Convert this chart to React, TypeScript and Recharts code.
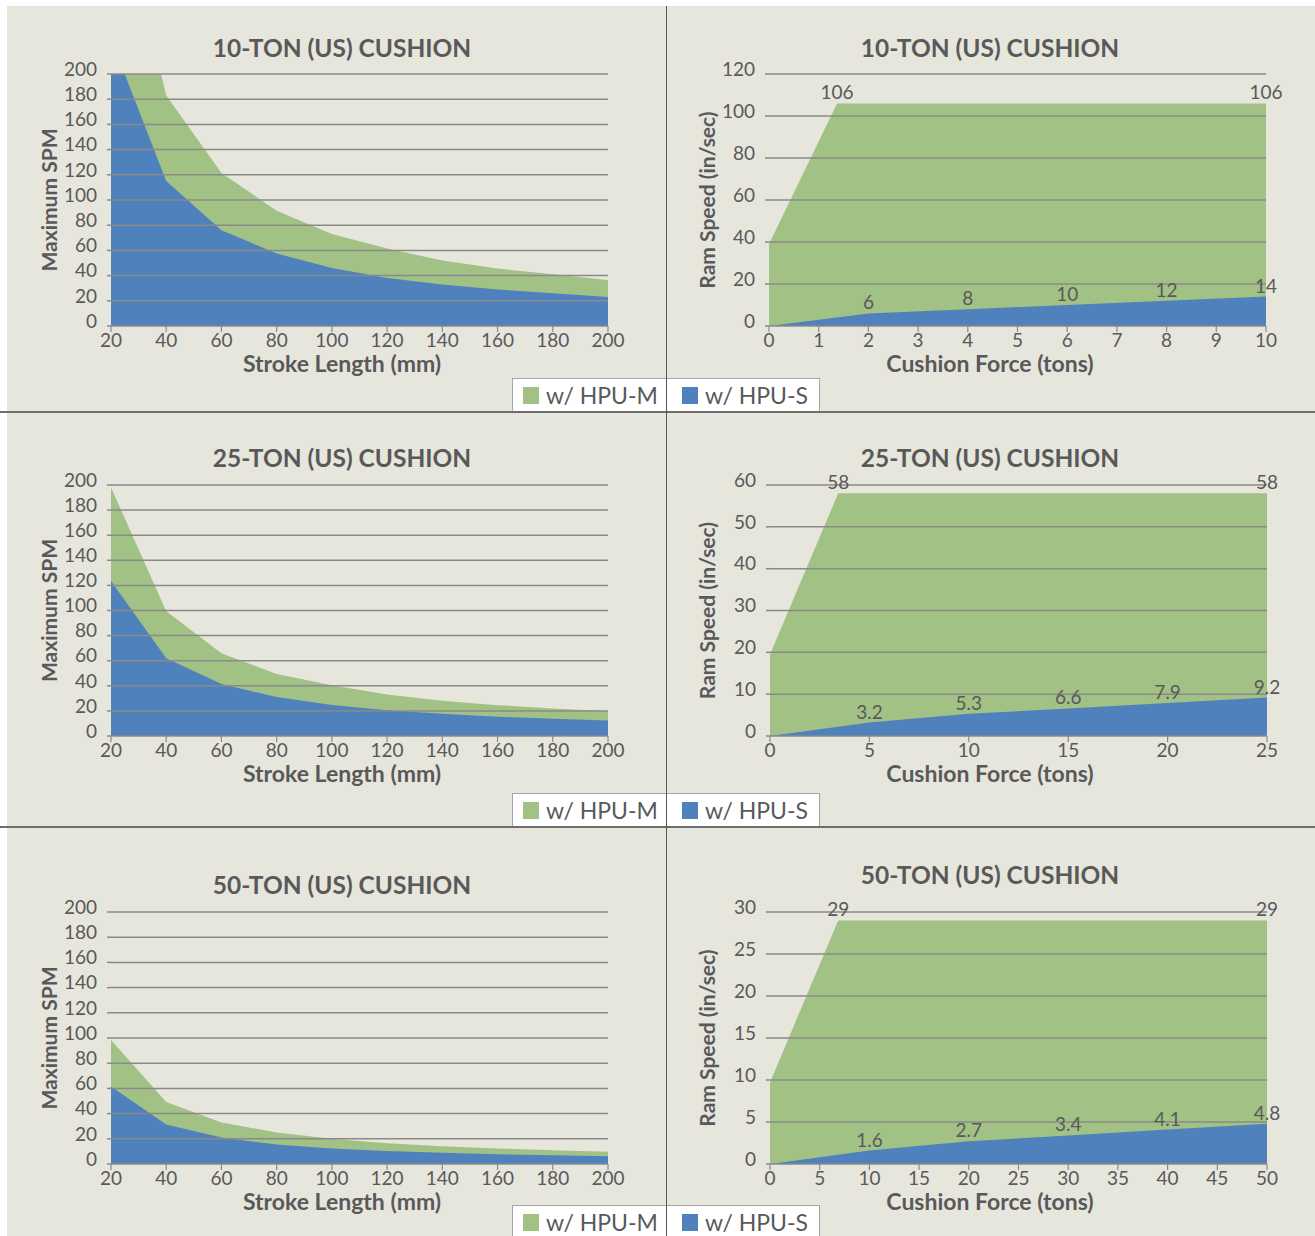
import React from 'react';
import { AreaChart, Area, XAxis, YAxis, ReferenceLine, LabelList, Label } from 'recharts';

const FONT = 'Lato, "Open Sans", sans-serif';
const TEXT = '#595959';
const GRID = '#8a8a8a';

const seriesNames = ['w/ HPU-M', 'w/ HPU-S'];
const seriesColors = ['#a2c185', '#4f81bd'];
const titles = ['10-TON (US) CUSHION', '25-TON (US) CUSHION', '50-TON (US) CUSHION'];

// stroke length vs max SPM
const strokeLengths = [20, 40, 60, 80, 100, 120, 140, 160, 180, 200];
const spmTicks = [0, 20, 40, 60, 80, 100, 120, 140, 160, 180, 200];
const spm10M = [366, 183, 121.5, 91.5, 73, 61.5, 52, 45.6, 41, 36.5];
const spm10S = [228, 115, 76, 57.5, 46, 38, 33, 29, 26, 23];
const spm25M = [198, 99.5, 66, 49.5, 40.5, 33, 28, 24.6, 22, 19.8];
const spm25S = [123.5, 62, 41.4, 31, 24.8, 20.6, 17.8, 15.4, 13.8, 12.4];
const spm50M = [98.5, 49.3, 33, 25, 20, 16.5, 14, 12.4, 11, 9.8];
const spm50S = [61.5, 31.4, 21, 15.5, 12.4, 10.3, 8.9, 7.8, 6.9, 6.2];

// cushion force vs ram speed
const force10M = [0, 1.37, 10];
const speed10M = [39, 106, 106];
const force10S = [0, 2, 4, 6, 8, 10];
const speed10S = [0, 6, 8, 10, 12, 14];
const force10Ticks = [0, 1, 2, 3, 4, 5, 6, 7, 8, 9, 10];
const speed10Ticks = [0, 20, 40, 60, 80, 100, 120];

const force25M = [0, 3.43, 25];
const speed25M = [19.5, 58, 58];
const force25S = [0, 5, 10, 15, 20, 25];
const speed25S = [0, 3.2, 5.3, 6.6, 7.9, 9.2];
const force25Ticks = [0, 5, 10, 15, 20, 25];
const speed25Ticks = [0, 10, 20, 30, 40, 50, 60];

const force50M = [0, 6.86, 50];
const speed50M = [9.7, 29, 29];
const force50S = [0, 10, 20, 30, 40, 50];
const speed50S = [0, 1.6, 2.7, 3.4, 4.1, 4.8];
const force50Ticks = [0, 5, 10, 15, 20, 25, 30, 35, 40, 45, 50];
const speed50Ticks = [0, 5, 10, 15, 20, 25, 30];

function spmTable(m: number[], s: number[]) {
  return strokeLengths.map((x, i) => ({ x, m: m[i], s: s[i] }));
}

// union of both series' x values; labels everywhere except at x = 0
function speedTable(xm: number[], ym: number[], xs: number[], ys: number[]) {
  const all = Array.from(new Set([...xm, ...xs])).sort((a, b) => a - b);
  return all.map((x) => {
    const im = xm.indexOf(x);
    const is = xs.indexOf(x);
    const m = im >= 0 ? ym[im] : null;
    const s = is >= 0 ? ys[is] : null;
    return {
      x,
      m,
      s,
      mLabel: x !== 0 && m != null ? m : undefined,
      sLabel: x !== 0 && s != null ? s : undefined,
    };
  });
}

type Plot = { x0: number; y0: number; x1: number; y1: number };

interface ChartProps {
  data: any[];
  plot: Plot;
  cellLeft: number;
  cellRight: number;
  xTicks: number[];
  yTicks: number[];
  xTitle: string;
  yTitle: string;
  yTitleX: number;
  centerX: number;
  labels?: boolean;
  overflow?: boolean;
}

function CushionChart(p: ChartProps) {
  const top = p.plot.y0 - 70;
  const width = p.cellRight - p.cellLeft;
  const plotH = p.plot.y1 - p.plot.y0;
  const yw = p.plot.x0 - p.cellLeft;
  const xDomain = [p.xTicks[0], p.xTicks[p.xTicks.length - 1]];
  const yDomain = [p.yTicks[0], p.yTicks[p.yTicks.length - 1]];
  const tickStyle = { fill: TEXT, fontSize: 19, fontFamily: FONT };
  const labelStyle = { fill: TEXT, fontSize: 19, fontFamily: FONT };
  return (
    <div style={{ position: 'absolute', left: p.cellLeft, top }}>
      <AreaChart
        width={width}
        height={70 + plotH + 60}
        data={p.data}
        margin={{ top: 70, right: p.cellRight - p.plot.x1, bottom: 15, left: 0 }}
      >
        <XAxis
          dataKey="x"
          type="number"
          domain={xDomain}
          ticks={p.xTicks}
          interval={0}
          height={46}
          tick={tickStyle}
          tickSize={6}
          tickMargin={2}
          axisLine={{ stroke: GRID, strokeWidth: 1.5 }}
          tickLine={{ stroke: GRID, strokeWidth: 1.2 }}
        >
          <Label
            value={p.xTitle}
            position="insideBottom"
            offset={0}
            dx={p.centerX - (p.plot.x0 + p.plot.x1) / 2}
            style={{ fill: TEXT, fontSize: 23, fontWeight: 700, fontFamily: FONT }}
          />
        </XAxis>
        <YAxis
          type="number"
          domain={yDomain}
          ticks={p.yTicks}
          interval={0}
          width={yw}
          allowDataOverflow={!!p.overflow}
          tick={{ ...tickStyle, dy: -5 }}
          tickSize={4}
          tickMargin={10}
          axisLine={false}
          tickLine={{ stroke: GRID, strokeWidth: 1.5 }}
        >
          <Label
            value={p.yTitle}
            position="center"
            angle={-90}
            dx={p.yTitleX - p.cellLeft - yw / 2}
            style={{ fill: TEXT, fontSize: 21, fontWeight: 700, fontFamily: FONT, textAnchor: 'middle' }}
          />
        </YAxis>
        <Area
          dataKey="m"
          name={seriesNames[0]}
          type="linear"
          fill={seriesColors[0]}
          fillOpacity={1}
          stroke="none"
          connectNulls
          isAnimationActive={false}
        >
          {p.labels && <LabelList dataKey="mLabel" position="top" offset={4} style={labelStyle} />}
        </Area>
        <Area
          dataKey="s"
          name={seriesNames[1]}
          type="linear"
          fill={seriesColors[1]}
          fillOpacity={1}
          stroke="none"
          connectNulls
          isAnimationActive={false}
        >
          {p.labels && <LabelList dataKey="sLabel" position="top" offset={4} style={labelStyle} />}
        </Area>
        {p.yTicks.slice(1).map((t) => (
          <ReferenceLine key={t} y={t} stroke={GRID} strokeWidth={1.5} />
        ))}
      </AreaChart>
    </div>
  );
}

function Title({ text, x, y }: { text: string; x: number; y: number }) {
  return (
    <div
      style={{
        position: 'absolute',
        left: x - 200,
        top: y - 16,
        width: 400,
        textAlign: 'center',
        fontFamily: FONT,
        fontWeight: 700,
        fontSize: 24.5,
        lineHeight: '32px',
        color: TEXT,
      }}
    >
      {text}
    </div>
  );
}

function LegendBox({ top }: { top: number }) {
  const offsets = [10, 169];
  return (
    <div
      style={{
        position: 'absolute',
        left: 512,
        top,
        width: 308,
        height: 35,
        background: '#fff',
        border: '1px solid #a6a6a6',
        boxSizing: 'border-box',
        fontFamily: FONT,
        fontSize: 23,
        color: TEXT,
      }}
    >
      {seriesNames.map((n, i) => (
        <React.Fragment key={n}>
          <div
            style={{
              position: 'absolute',
              left: offsets[i],
              top: 8,
              width: 16,
              height: 17,
              background: seriesColors[i],
            }}
          />
          <div style={{ position: 'absolute', left: offsets[i] + 23, top: 0, lineHeight: '33px', whiteSpace: 'nowrap' }}>
            {n}
          </div>
        </React.Fragment>
      ))}
    </div>
  );
}

const rows = [
  {
    title: titles[0],
    titleY: [48, 48],
    left: { data: spmTable(spm10M, spm10S), plot: { x0: 111, y0: 74, x1: 608, y1: 327 }, overflow: true },
    right: {
      data: speedTable(force10M, speed10M, force10S, speed10S),
      plot: { x0: 769, y0: 74, x1: 1266, y1: 327 },
      xTicks: force10Ticks,
      yTicks: speed10Ticks,
    },
    legendTop: 378,
  },
  {
    title: titles[1],
    titleY: [458, 458],
    left: { data: spmTable(spm25M, spm25S), plot: { x0: 111, y0: 485, x1: 608, y1: 737 }, overflow: false },
    right: {
      data: speedTable(force25M, speed25M, force25S, speed25S),
      plot: { x0: 770, y0: 485, x1: 1267, y1: 737 },
      xTicks: force25Ticks,
      yTicks: speed25Ticks,
    },
    legendTop: 793,
  },
  {
    title: titles[2],
    titleY: [885, 875],
    left: { data: spmTable(spm50M, spm50S), plot: { x0: 111, y0: 912, x1: 608, y1: 1165 }, overflow: false },
    right: {
      data: speedTable(force50M, speed50M, force50S, speed50S),
      plot: { x0: 770, y0: 912, x1: 1267, y1: 1165 },
      xTicks: force50Ticks,
      yTicks: speed50Ticks,
    },
    legendTop: 1205,
  },
];

export default function App() {
  return (
    <div style={{ position: 'absolute', left: 0, top: 0, width: 1315, height: 1236, background: '#fff', overflow: 'hidden' }}>
      <div style={{ position: 'absolute', left: 7, top: 6, right: 0, bottom: 0, background: '#e6e6dd' }} />
      {rows.map((r, i) => (
        <React.Fragment key={i}>
          <Title text={r.title} x={342} y={r.titleY[0]} />
          <Title text={r.title} x={990} y={r.titleY[1]} />
          <CushionChart
            data={r.left.data}
            plot={r.left.plot}
            cellLeft={0}
            cellRight={666}
            xTicks={strokeLengths}
            yTicks={spmTicks}
            xTitle="Stroke Length (mm)"
            yTitle="Maximum SPM"
            yTitleX={50}
            centerX={342}
            overflow={r.left.overflow}
          />
          <CushionChart
            data={r.right.data}
            plot={r.right.plot}
            cellLeft={666}
            cellRight={1315}
            xTicks={r.right.xTicks}
            yTicks={r.right.yTicks}
            xTitle="Cushion Force (tons)"
            yTitle="Ram Speed (in/sec)"
            yTitleX={708}
            centerX={990}
            labels
          />
          <LegendBox top={r.legendTop} />
        </React.Fragment>
      ))}
      <div style={{ position: 'absolute', left: 0, top: 411, width: 1315, height: 2, background: '#6e6e6e' }} />
      <div style={{ position: 'absolute', left: 0, top: 826, width: 1315, height: 2, background: '#6e6e6e' }} />
      <div style={{ position: 'absolute', left: 665.5, top: 6, width: 1.5, height: 1230, background: '#555' }} />
    </div>
  );
}
